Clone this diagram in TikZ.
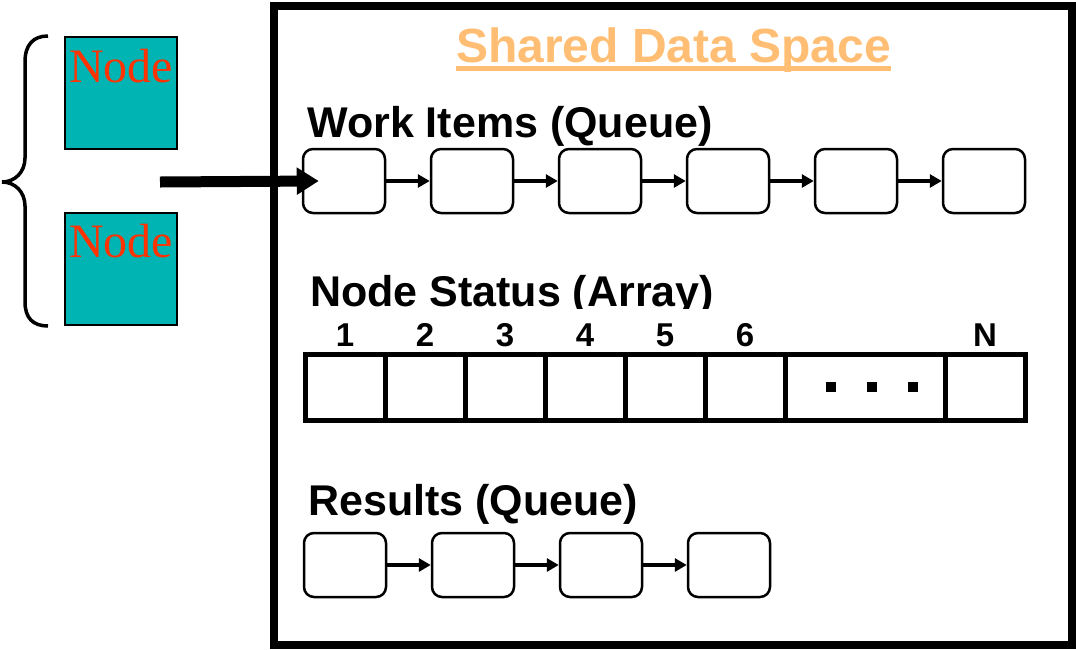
\documentclass[tikz,border=0pt]{standalone}
\usepackage{fontspec}
\setmainfont{Liberation Sans}
\newfontfamily\serff{Liberation Serif}
\usetikzlibrary{arrows.meta}
\definecolor{tealfill}{RGB}{0,180,180}
\definecolor{nodered}{RGB}{255,51,0}
\definecolor{titleorange}{RGB}{255,190,115}
\tikzset{
  qbox/.style={draw, line width=2.5pt, rounded corners=10pt, minimum width=82pt, minimum height=64pt, inner sep=0pt},
  qarrow/.style={line width=4pt, -{Triangle[length=12pt,width=13pt]}},
  bigarrow/.style={line width=11pt, -{Triangle[length=22pt,width=26pt]}},
  cell/.style={draw, line width=5pt, minimum width=80pt, minimum height=66pt, inner sep=0pt},
  heading/.style={inner sep=0pt, font=\fontsize{43pt}{48pt}\selectfont\bfseries},
  numlab/.style={inner sep=0pt, anchor=base, font=\fontsize{33pt}{36pt}\selectfont\bfseries},
  nodebox/.style={draw, line width=1.5pt, fill=tealfill, minimum width=112pt, minimum height=112pt, inner sep=0pt},
  nodetext/.style={inner sep=0pt, anchor=base, text=nodered, font=\serff\fontsize{48pt}{52pt}\selectfont},
  dotsq/.style={fill=black, minimum width=10pt, minimum height=10pt, inner sep=0pt},
}
\begin{document}
\begin{tikzpicture}[x=1pt,y=-1pt]
\useasboundingbox (0,0) rectangle (1076,649);
\fill[white] (0,0) rectangle (1076,649);

% outer shared data space box
\draw[line width=8pt] (273.5,5.5) rectangle (1072,645);

% title
\node[inner sep=0pt, anchor=base, text=titleorange, font=\fontsize{48pt}{54pt}\selectfont\bfseries] (title) at (673.5,62) {Shared Data Space};
\draw[titleorange, line width=5pt] ([yshift=-6.5pt]title.base west) -- ([yshift=-6.5pt]title.base east);

% left nodes and brace
\node[nodebox] (n1) at (121,93) {};
\node[nodetext] (n1t) at (121,82) {Node};
\node[nodebox] (n2) at (121,269) {};
\node[nodetext] (n2t) at (121,257) {Node};
\draw[line width=3.5pt] (48,36) .. controls (33,36) and (25,45) .. (25,62) -- (25,158)
  .. controls (25,172) and (15,182) .. (2,182)
  .. controls (15,182) and (25,192) .. (25,206) -- (25,302)
  .. controls (25,318) and (33,326) .. (48,326);

% work items queue
\node[heading, anchor=base west] (wlab) at (307,137) {Work Items (Queue)};
\foreach \i in {1,...,6} {
  \node[qbox] (w\i) at ({344+128*(\i-1)},181) {};
}
\foreach \i/\j in {1/2,2/3,3/4,4/5,5/6} {
  \draw[qarrow] (w\i.east) -- (w\j.west);
}

% big arrow into the queue
\coordinate (src) at (160,182);
\coordinate (tip) at ([xshift=17pt]w1.west);
\draw[bigarrow] (src) -- (tip);

% node status array
\begin{scope}
\clip (280,250) rectangle (1060,308);
\node[heading, anchor=base west] (slab) at (310,306) {Node Status (Array)};
\end{scope}
\foreach \i in {1,...,6} {
  \node[cell] (c\i) at ({345+80*(\i-1)},387) {};
  \node[numlab] (l\i) at ({345+80*(\i-1)},346) {\i};
}
\node[cell, minimum width=160pt] (cd) at (865,387) {};
\node[cell] (cn) at (985,387) {};
\node[numlab] (ln) at (985,346) {N};
\node[dotsq] (d1) at (831,387) {};
\node[dotsq] (d2) at (872,387) {};
\node[dotsq] (d3) at (913,387) {};

% results queue
\node[heading, anchor=base west] (rlab) at (308,515) {Results (Queue)};
\foreach \i in {1,...,4} {
  \node[qbox] (r\i) at ({345+128*(\i-1)},565) {};
}
\foreach \i/\j in {1/2,2/3,3/4} {
  \draw[qarrow] (r\i.east) -- (r\j.west);
}
\end{tikzpicture}
\end{document}
